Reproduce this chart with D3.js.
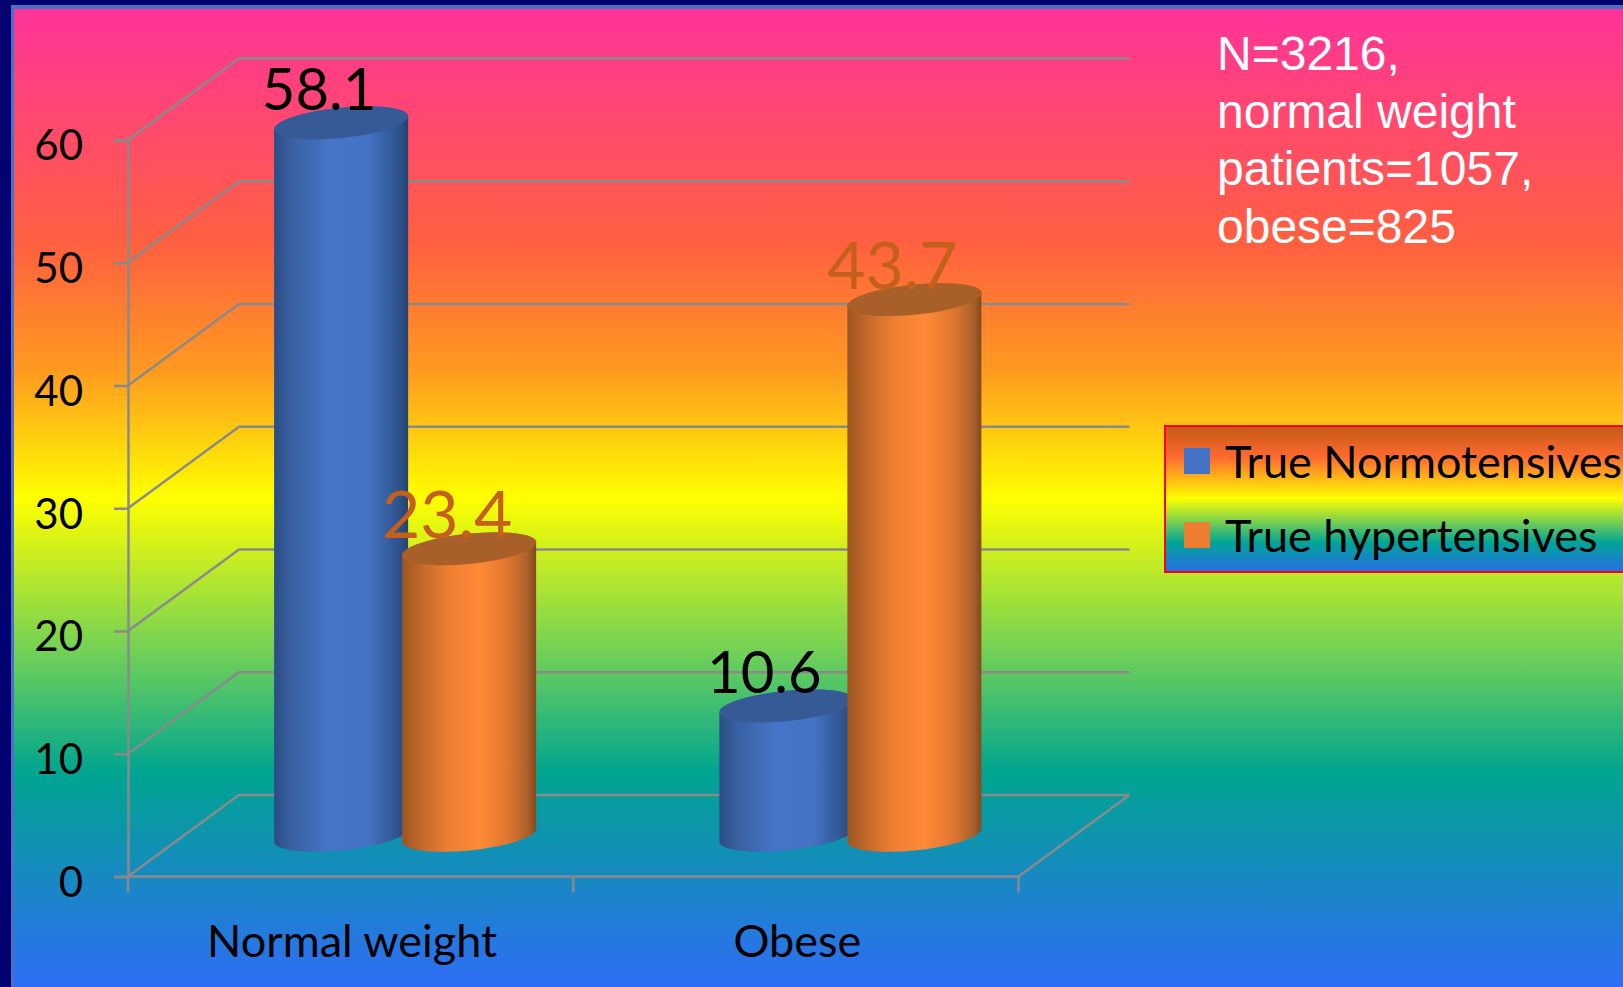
<!DOCTYPE html>
<html>
<head>
<meta charset="utf-8">
<script src="https://cdn.jsdelivr.net/npm/d3@7"></script>
<style>
  html, body { margin: 0; padding: 0; background: #000070; overflow: hidden; }
  svg { display: block; }
</style>
</head>
<body>
<svg id="chart" width="1623" height="987"></svg>
<script>
const categories = ["Normal weight", "Obese"];
const seriesNames = ["True Normotensives", "True hypertensives"];
const normotensives = [58.1, 10.6];
const hypertensives = [23.4, 43.7];
const yTicks = [0, 10, 20, 30, 40, 50, 60];
const infoLines = ["N=3216,", "normal weight", "patients=1057,", "obese=825"];

const width = 1623, height = 987;
const labelFont = "Lato, Carlito, sans-serif";
const gridColor = "#8a8a8a";

// Projection of the 3D box: front plane on the scales, back plane shifted by depth
const depthX = 111, depthY = -81.5;
const x = d3.scaleBand().domain(categories).range([128, 1018.5]);
const seriesX = d3.scaleBand().domain(seriesNames).range([-128, 128]);
const y = d3.scaleLinear().domain([0, 60]).range([876.5, 140]);

const svg = d3.select("#chart");
const defs = svg.append("defs");

function verticalGradient(id, y1, y2, stops) {
  const g = defs.append("linearGradient").attr("id", id)
    .attr("gradientUnits", "userSpaceOnUse")
    .attr("x1", 0).attr("x2", 0).attr("y1", y1).attr("y2", y2);
  stops.forEach(([o, c]) => g.append("stop").attr("offset", o).attr("stop-color", c));
}
function cylinderGradient(id, stops) {
  const g = defs.append("linearGradient").attr("id", id)
    .attr("x1", 0).attr("x2", 1).attr("y1", 0).attr("y2", 0);
  stops.forEach(([o, c]) => g.append("stop").attr("offset", o).attr("stop-color", c));
}

verticalGradient("page", 9, 987, [
  [0, "#ff3399"], [0.24, "#ff6040"], [0.37, "#ff9a20"], [0.5, "#ffff00"],
  [0.66, "#6fd058"], [0.78, "#00a590"], [1, "#2f6cf6"]
]);
verticalGradient("legendFill", 425, 572, [
  [0, "#c05a14"], [0.22, "#ff6a30"], [0.5, "#ffff00"],
  [0.8, "#00a598"], [1, "#2a6ce8"]
]);
cylinderGradient("blueBody", [
  [0, "#2a4c84"], [0.12, "#38609f"], [0.42, "#4675c9"], [0.7, "#4473c4"],
  [0.92, "#2f5490"], [1, "#25426f"]
]);
cylinderGradient("orangeBody", [
  [0, "#9c5520"], [0.14, "#c2682a"], [0.35, "#ee7f33"], [0.58, "#ff8a36"],
  [0.8, "#dd752f"], [0.94, "#a9602a"], [1, "#85491c"]
]);

// Page frame and backdrop
svg.append("rect").attr("width", width).attr("height", height).attr("fill", "#000070");
svg.append("rect").attr("x", 11).attr("y", 5).attr("width", width - 11).attr("height", height - 5).attr("fill", "#4472c4");
svg.append("rect").attr("x", 14).attr("y", 9).attr("width", width - 14).attr("height", height - 9).attr("fill", "url(#page)");

const plot = svg.append("g");

// Gridlines on the side and back walls
const walls = plot.append("g").attr("fill", "none").attr("stroke", gridColor).attr("stroke-width", 2.5);
walls.selectAll("path.grid").data(yTicks).join("path").attr("class", "grid")
  .attr("d", d => d3.line()([
    [x.range()[0], y(d)],
    [x.range()[0] + depthX, y(d) + depthY],
    [x.range()[1] + depthX, y(d) + depthY]
  ]));
// Floor edges
walls.append("path").attr("d", d3.line()([
  [x.range()[0], y(0)], [x.range()[1], y(0)], [x.range()[1] + depthX, y(0) + depthY]
]));

// Value axis
const yAxis = d3.axisLeft(y).tickValues(yTicks).tickSize(14).tickPadding(31).tickFormat(d3.format("d"));
const yG = plot.append("g").attr("transform", `translate(${x.range()[0]},0)`).call(yAxis);
yG.select(".domain").attr("stroke", gridColor).attr("stroke-width", 2.5);
yG.selectAll(".tick line").attr("stroke", gridColor).attr("stroke-width", 2.5);
yG.selectAll(".tick text").attr("font-family", labelFont).attr("font-size", 42)
  .attr("fill", "#000").attr("dy", "0.47em");

// Category axis
const xBoundaries = [x.range()[0], x.range()[0] + x.step(), x.range()[1]];
plot.append("g").selectAll("line").data(xBoundaries).join("line")
  .attr("x1", d => d).attr("x2", d => d).attr("y1", y(0)).attr("y2", y(0) + 16)
  .attr("stroke", gridColor).attr("stroke-width", 2.5);
plot.append("g").selectAll("text").data(categories).join("text")
  .attr("x", d => x(d) + x.bandwidth() / 2 + 1.5)
  .attr("y", 957)
  .attr("text-anchor", "middle")
  .attr("font-family", labelFont).attr("font-size", 45).attr("fill", "#000")
  .text(d => d);

// Cylinders: the caps are skewed ellipses, x = W cos t, y = B cos t + C sin t
const halfW = 67, skew = -6.5, halfH = 15.2;
const floorMidY = y(0) + depthY / 2 - 0.5;
const level = v => floorMidY - (y(0) - y(v)) + 0.8;
const rim = (cx, cy, t0, t1, n = 48) => d3.range(n + 1).map(i => {
  const t = t0 + (t1 - t0) * i / n;
  return [cx + halfW * Math.cos(t), cy + skew * Math.cos(t) + halfH * Math.sin(t)];
});

const rows = [
  { name: seriesNames[0], values: normotensives, body: "url(#blueBody)", cap: "#355a96", label: "#000000", labelSize: 58, labelLift: 13 },
  { name: seriesNames[1], values: hypertensives, body: "url(#orangeBody)", cap: "#a85f28", label: "#c4601c", labelSize: 66, labelLift: 11 }
];
const bars = rows.flatMap(r => categories.map((c, i) => ({
  ...r, category: c, value: r.values[i],
  cx: x(c) + x.bandwidth() / 2 + depthX / 2 + seriesX(r.name) + seriesX.bandwidth() / 2 - 1
})));

const cylinders = plot.append("g").selectAll("g").data(bars).join("g");
cylinders.append("path")
  .attr("fill", d => d.body)
  .attr("d", d => {
    const top = level(d.value);
    const outline = rim(d.cx, top, Math.PI, 2 * Math.PI).concat(rim(d.cx, floorMidY, 0, Math.PI));
    return d3.line()(outline) + "Z";
  });
cylinders.append("path")
  .attr("fill", d => d.cap)
  .attr("d", d => d3.line()(rim(d.cx, level(d.value), 0, 2 * Math.PI)) + "Z");

// Value labels
plot.append("g").selectAll("text").data(bars).join("text")
  .attr("x", d => d.cx - 22)
  .attr("y", d => level(d.value) - d.labelLift)
  .attr("text-anchor", "middle")
  .attr("font-family", labelFont).attr("font-size", d => d.labelSize)
  .attr("fill", d => d.label)
  .text(d => d3.format(".1f")(d.value));

// Cohort note
svg.append("g").selectAll("text").data(infoLines).join("text")
  .attr("x", 1217)
  .attr("y", (d, i) => 70 + i * 57.6)
  .attr("font-family", "'Liberation Sans', Arial, sans-serif")
  .attr("font-size", 48)
  .attr("fill", "#fff")
  .text(d => d);

// Legend, running off the right edge
const legend = svg.append("g");
legend.append("rect").attr("x", 1165).attr("y", 426).attr("width", 480).attr("height", 146)
  .attr("fill", "url(#legendFill)").attr("stroke", "#ff0000").attr("stroke-width", 2);
const legendColors = ["#4472c4", "#ed7d31"];
const legendRows = legend.selectAll("g").data(seriesNames).join("g")
  .attr("transform", (d, i) => `translate(0,${448 + i * 74})`);
legendRows.append("rect").attr("x", 1184).attr("width", 26).attr("height", 26)
  .attr("fill", (d, i) => legendColors[i]);
legendRows.append("text").attr("x", 1225).attr("y", 30)
  .attr("font-family", labelFont).attr("font-size", 45).attr("fill", "#000")
  .text(d => d);
</script>
</body>
</html>
